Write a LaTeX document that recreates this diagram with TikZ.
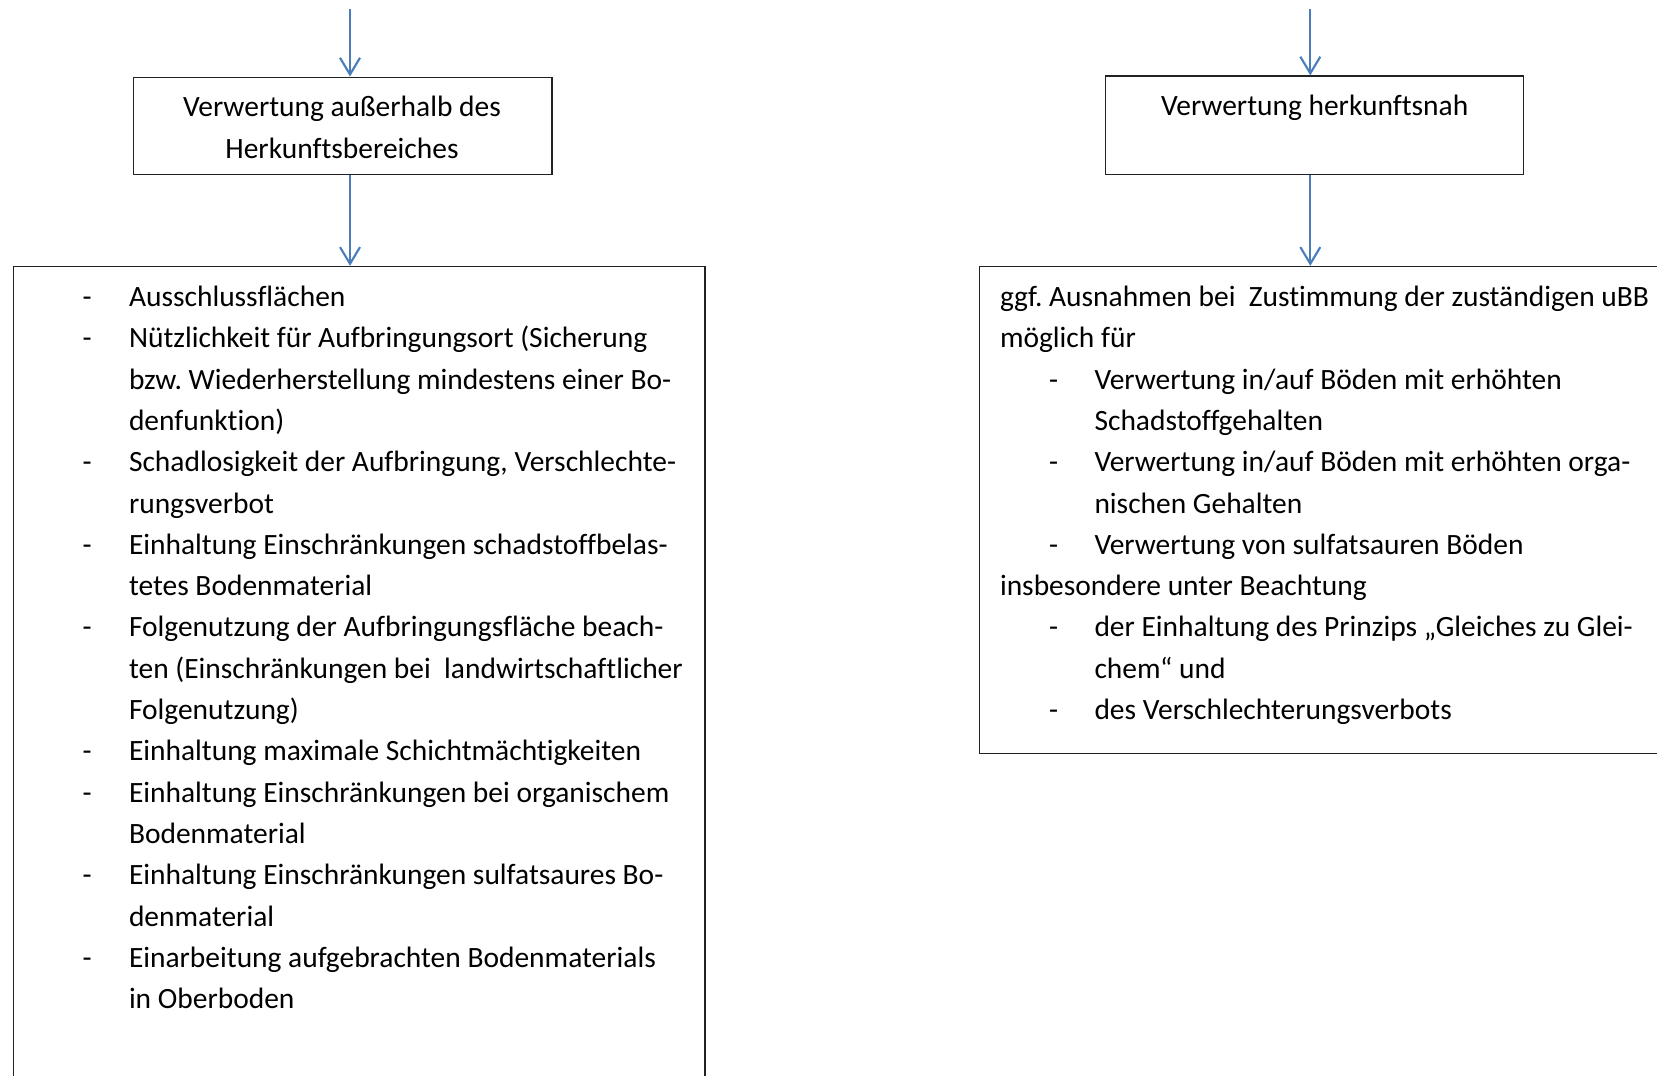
\documentclass[tikz,border=0pt]{standalone}
\usepackage{fontspec}
\setmainfont{Carlito}[Ligatures={NoCommon}]
\usetikzlibrary{arrows.meta,fit}
\definecolor{arrblue}{HTML}{4A7EBB}
\definecolor{boxline}{HTML}{222222}
\frenchspacing
\begin{document}
\begin{tikzpicture}[x=0.75pt,y=-0.75pt,
  box/.style={draw=boxline,line width=1pt,inner sep=0pt,fill=none},
  arr/.style={draw=arrblue,line width=1.6pt,-{Straight Barb[length=12.5pt,width=15pt,line width=1.6pt]}},
  txt/.style={anchor=base west,inner sep=0pt,outer sep=0pt,font=\fontsize{22.1}{31}\selectfont},
  ctxt/.style={anchor=base,inner sep=0pt,outer sep=0pt,font=\fontsize{22.1}{31}\selectfont}]
\path[use as bounding box] (0,0) rectangle (1657,1075);
\clip (0,0) rectangle (1657,1075);

% boxes
\node[box,fit={(133.5,77.2) (552,174.6)}] (tl) {};
\node[box,fit={(1105.6,76.1) (1523.7,174.4)}] (tr) {};
\node[box,fit={(13.8,266.5) (705,1110)}] (bl) {};
\node[box,fit={(979.7,266.5) (1700,753.5)}] (br) {};

% arrows
\coordinate (sl) at (350,8.5);
\coordinate (sr) at (1310.3,8.5);
\draw[arr] (sl) -- (sl |- tl.north);
\draw[arr] (sl |- tl.south) -- (sl |- bl.north);
\draw[arr] (sr) -- (sr |- tr.north);
\draw[arr] (sr |- tr.south) -- (sr |- br.north);

% top box texts
\node[ctxt] (tl1) at (342,116.5) {Verwertung außerhalb des};
\node[ctxt] (tl2) at (342,158) {Herkunftsbereiches};
\node[ctxt] (tr1) at (1314.7,115.5) {Verwertung herkunftsnah};

% left list
\foreach \i/\d/\t in {
  0/-/{Ausschlussflächen},
  1/-/{Nützlichkeit für Aufbringungsort (Sicherung},
  2//{bzw. Wiederherstellung mindestens einer Bo-},
  3//{denfunktion)},
  4/-/{Schadlosigkeit der Aufbringung, Verschlechte-},
  5//{rungsverbot},
  6/-/{Einhaltung Einschränkungen schadstoffbelas-},
  7//{tetes Bodenmaterial},
  8/-/{Folgenutzung der Aufbringungsfläche beach-},
  9//{ten (Einschränkungen bei\ \ landwirtschaftlicher},
  10//{Folgenutzung)},
  11/-/{Einhaltung maximale Schichtmächtigkeiten},
  12/-/{Einhaltung Einschränkungen bei organischem},
  13//{Bodenmaterial},
  14/-/{Einhaltung Einschränkungen sulfatsaures Bo-},
  15//{denmaterial},
  16/-/{Einarbeitung aufgebrachten Bodenmaterials},
  17//{in Oberboden}}{
  \node[txt] (lt\i) at (129,306.5+41.3*\i) {\t};
  \node[txt] (ld\i) at (82.5,306.5+41.3*\i) {\d};
}

% right list
\foreach \i/\x/\d/\t in {
  0/1000//{ggf. Ausnahmen bei\ \ Zustimmung der zuständigen uBB},
  1/1000//{möglich für},
  2/1094.5/-/{Verwertung in/auf Böden mit erhöhten},
  3/1094.5//{Schadstoffgehalten},
  4/1094.5/-/{Verwertung in/auf Böden mit erhöhten orga-},
  5/1094.5//{nischen Gehalten},
  6/1094.5/-/{Verwertung von sulfatsauren Böden},
  7/1000//{insbesondere unter Beachtung},
  8/1094.5/-/{der Einhaltung des Prinzips „Gleiches zu Glei-},
  9/1094.5//{chem“ und},
  10/1094.5/-/{des Verschlechterungsverbots}}{
  \node[txt] (rt\i) at (\x,306.5+41.3*\i) {\t};
  \node[txt] (rd\i) at (1049,306.5+41.3*\i) {\d};
}
\end{tikzpicture}
\end{document}
